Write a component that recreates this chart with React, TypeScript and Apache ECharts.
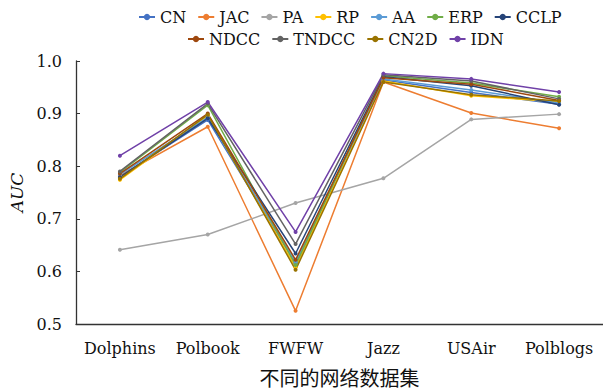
import React, { useEffect, useRef } from "react";
import * as echarts from "echarts";

const categories = ["Dolphins", "Polbook", "FWFW", "Jazz", "USAir", "Polblogs"];
const seriesNames = ["CN", "JAC", "PA", "RP", "AA", "ERP", "CCLP", "NDCC", "TNDCC", "CN2D", "IDN"];
const colors = ["#4472C4", "#ED7D31", "#A5A5A5", "#FFC000", "#5B9BD5", "#70AD47", "#264478", "#9E480E", "#636363", "#997300", "#7041A8"];

const CN = [0.780, 0.888, 0.615, 0.964, 0.940, 0.918];
const JAC = [0.782, 0.875, 0.525, 0.960, 0.901, 0.872];
const PA = [0.641, 0.670, 0.730, 0.777, 0.889, 0.899];
const RP = [0.774, 0.896, 0.608, 0.962, 0.934, 0.922];
const AA = [0.784, 0.893, 0.618, 0.966, 0.945, 0.920];
const ERP = [0.788, 0.916, 0.612, 0.972, 0.958, 0.932];
const CCLP = [0.779, 0.891, 0.634, 0.970, 0.953, 0.917];
const NDCC = [0.786, 0.900, 0.622, 0.968, 0.956, 0.925];
const TNDCC = [0.790, 0.919, 0.652, 0.974, 0.962, 0.928];
const CN2D = [0.776, 0.898, 0.603, 0.960, 0.936, 0.924];
const IDN = [0.820, 0.922, 0.675, 0.976, 0.966, 0.941];

const seriesData = [CN, JAC, PA, RP, AA, ERP, CCLP, NDCC, TNDCC, CN2D, IDN];
const legendRow1 = ["CN", "JAC", "PA", "RP", "AA", "ERP", "CCLP"];
const legendRow2 = ["NDCC", "TNDCC", "CN2D", "IDN"];

const FONT = "DejaVu Serif";
const CJK = "Noto Sans CJK SC";

export default function App() {
  const ref = useRef<HTMLDivElement>(null);
  useEffect(() => {
    document.body.style.margin = "0";
    if (!ref.current) return;
    const chart = echarts.init(ref.current, undefined, { renderer: "svg" });
    const legendCommon = {
      itemWidth: 16,
      itemHeight: 8,
      itemGap: 11,
      textStyle: { fontFamily: FONT, fontSize: 16, color: "#111" },
      padding: 0,
    };
    chart.setOption({
      animation: false,
      color: colors,
      textStyle: { fontFamily: FONT },
      legend: [
        { ...legendCommon, left: 138, top: 9, data: legendRow1 },
        { ...legendCommon, left: 187, top: 31, data: legendRow2 },
      ],
      grid: { left: 76, top: 61, width: 531, height: 263, containLabel: false },
      xAxis: {
        type: "category",
        data: categories,
        boundaryGap: true,
        name: "不同的网络数据集",
        nameLocation: "middle",
        nameGap: 43,
        nameTextStyle: { fontFamily: CJK, fontSize: 20, color: "#111" },
        axisLine: { lineStyle: { color: "#333", width: 1.3 } },
        axisTick: { alignWithLabel: true, inside: true, length: 4, lineStyle: { color: "#333" } },
        axisLabel: { fontFamily: FONT, fontSize: 16, color: "#111", margin: 16, interval: 0 },
        splitLine: { show: false },
      },
      yAxis: {
        type: "value",
        min: 0.5,
        max: 1.0,
        interval: 0.1,
        name: "AUC",
        nameLocation: "middle",
        nameGap: 51,
        nameTextStyle: { fontFamily: FONT, fontSize: 17, fontStyle: "italic", color: "#111" },
        axisLine: { show: true, lineStyle: { color: "#333", width: 1.3 } },
        axisTick: { show: true, inside: true, length: 4, lineStyle: { color: "#333" } },
        axisLabel: {
          fontFamily: FONT,
          fontSize: 16,
          color: "#111",
          margin: 14,
          formatter: (v: number) => v.toFixed(1),
        },
        splitLine: { show: false },
      },
      series: seriesNames.map((name, i) => ({
        name,
        type: "line",
        data: seriesData[i],
        symbol: "circle",
        symbolSize: 4,
        lineStyle: { width: 1.5, color: colors[i] },
        itemStyle: { color: colors[i] },
      })),
    });
    return () => chart.dispose();
  }, []);
  return <div ref={ref} style={{ width: 603, height: 392 }} />;
}
